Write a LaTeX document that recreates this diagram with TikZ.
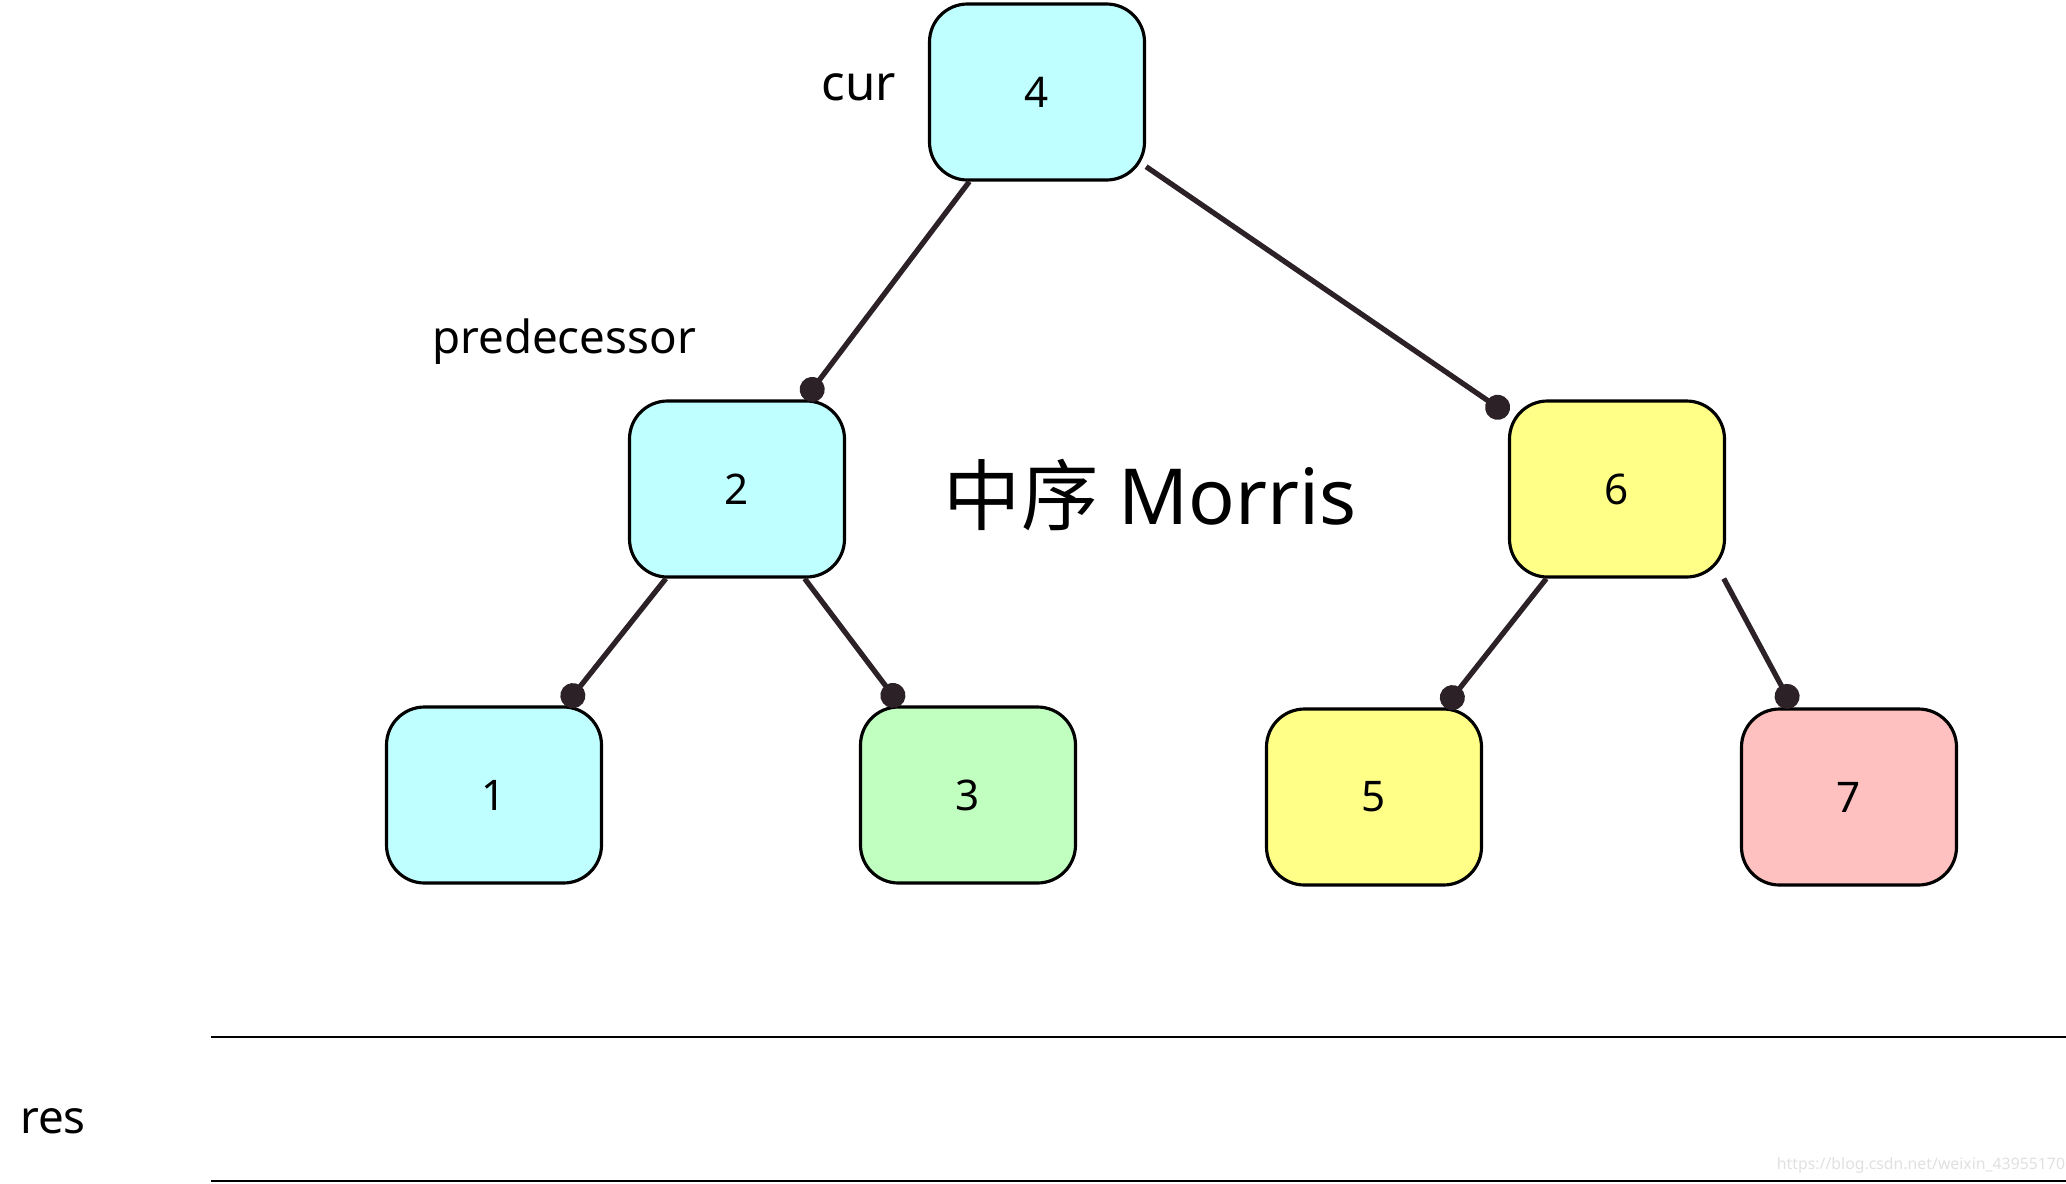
\documentclass[tikz,border=0pt]{standalone}
\usepackage{fontspec}
\setmainfont{Noto Sans}
\newfontfamily\cjk{Noto Sans CJK SC}
\usepackage{tikz}
\usetikzlibrary{arrows.meta, positioning}
\definecolor{nodecyan}{HTML}{C0FFFF}
\definecolor{nodeyellow}{HTML}{FFFF88}
\definecolor{nodegreen}{HTML}{C0FFC0}
\definecolor{nodepink}{HTML}{FFC0C0}
\definecolor{edgecol}{HTML}{2B2126}

\begin{document}
\begin{tikzpicture}[
        font=\fontsize{12}{14}\selectfont,
        tnode/.style={draw, line width=0.9pt, rounded corners=0.38cm, minimum width=2.15cm, minimum height=1.76cm, align=center},
        link/.style={-{Circle[length=0.25cm]}, line width=1.5pt, draw=edgecol},
        lbl/.style={anchor=base, font=\fontsize{13}{15}\selectfont}
    ]
        \useasboundingbox (0,0) rectangle (20.66,-11.83);

        \node[tnode, fill=nodecyan]   (n4) at (10.37,-0.92) {4};
        \node[tnode, fill=nodecyan]   (n2) at (7.37,-4.89)  {2};
        \node[tnode, fill=nodeyellow] (n6) at (16.17,-4.89) {6};
        \node[tnode, fill=nodecyan]   (n1) at (4.94,-7.95)  {1};
        \node[tnode, fill=nodegreen]  (n3) at (9.68,-7.95)  {3};
        \node[tnode, fill=nodeyellow] (n5) at (13.74,-7.97) {5};
        \node[tnode, fill=nodepink]   (n7) at (18.49,-7.97) {7};

        \draw[link] (n4) -- (n2);
        \draw[link] (n4) -- (n6);
        \draw[link] (n2) -- (n1);
        \draw[link] (n2) -- (n3);
        \draw[link] (n6) -- (n5);
        \draw[link] (n6.-40) -- (n7.122);

        % labels
        \node[lbl, font=\fontsize{14}{16}\selectfont] (cur)  at (8.59,-1.00) {cur};
        \node[lbl] (pred) at (5.64,-3.53) {predecessor};
        \node[anchor=base, font=\fontsize{22}{26}\selectfont] (title) at (11.50,-5.24) {{\cjk 中序} Morris};
        \node[lbl] (res)  at (0.53,-11.33) {res};

        % res bar
        \coordinate (ta) at (2.11,-10.37);
        \coordinate (tb) at (20.66,-10.37);
        \coordinate (ba) at (2.11,-11.81);
        \coordinate (bb) at (20.66,-11.81);
        \draw[line width=0.7pt] (ta) -- (tb);
        \draw[line width=0.7pt] (ba) -- (bb);

        \node[font=\fontsize{4.5}{5}\selectfont, text=black!12] (wm) at (19.21,-11.65) {https://blog.csdn.net/weixin\_43955170};
    \end{tikzpicture}
\end{document}
